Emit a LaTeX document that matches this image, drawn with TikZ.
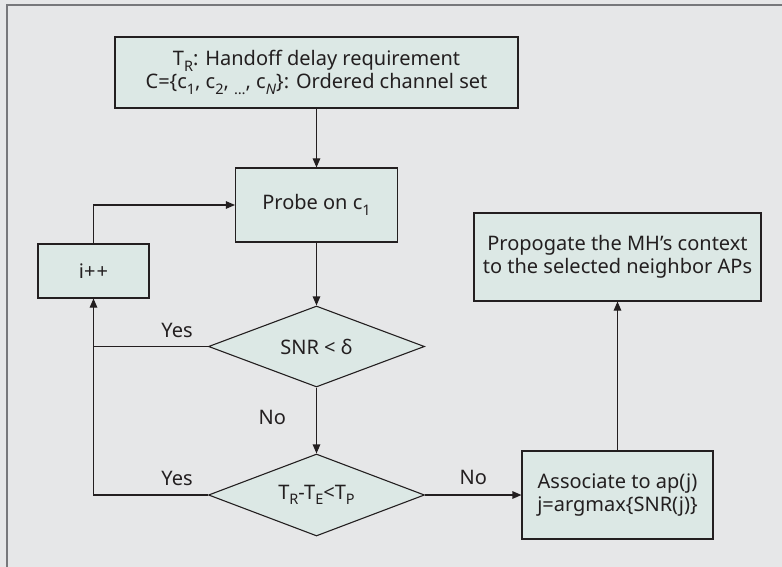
\documentclass[tikz,border=0pt]{standalone}
\usepackage{fontspec}
\setmainfont{Noto Sans}
\usetikzlibrary{shapes.geometric,arrows.meta}
\definecolor{bgc}{HTML}{E6E7E8}
\definecolor{boxc}{HTML}{DCE8E5}
\definecolor{framec}{HTML}{77787B}
\definecolor{linec}{HTML}{231F20}
\newcommand\sbs[1]{\raisebox{-0.28em}{\fontsize{14.5}{14.5}\selectfont #1}}
\tikzset{
  flowbox/.style={draw=linec, fill=boxc, line width=1.1pt, inner sep=0pt, align=center, font=\fontsize{20}{23}\selectfont, text=linec},
  decbox/.style={diamond, draw=linec, fill=boxc, line width=1.1pt, inner sep=0pt, aspect=2.7, font=\fontsize{20}{23}\selectfont, text=linec},
  conn/.style={draw=linec, line width=1.1pt},
  arr/.style={conn, -{Triangle[length=9pt,width=7.5pt]}},
  lbl/.style={font=\fontsize{20}{23}\selectfont, text=linec, inner sep=0pt}
}
\begin{document}
\begin{tikzpicture}[x=1pt,y=-1pt]
\fill[bgc] (0,0) rectangle (782,567);
\useasboundingbox (0,0) rectangle (782,567);
\draw[framec, line width=2pt] (7,567) -- (7,5) -- (782,5);

\node[flowbox, minimum width=403pt, minimum height=71pt] (top) at (316.5,72.5)
  {T\sbs{R}: Handoff delay requirement\\C=\{c\sbs{1}, c\sbs{2}, \sbs{\dots}, c\sbs{\textit{N}}\}: Ordered channel set};
\node[flowbox, minimum width=162pt, minimum height=74pt] (probe) at (316.5,205)
  {Probe on c\sbs{1}};
\node[flowbox, minimum width=111pt, minimum height=54pt] (ipp) at (93.5,271)
  {i+\kern1pt+};
\node[decbox, minimum width=216pt, minimum height=81pt] (d1) at (316.5,346.5)
  {SNR < δ};
\node[decbox, minimum width=216pt, minimum height=82pt] (d2) at (316.5,495)
  {T\sbs{R}-T\sbs{E}<T\sbs{P}};
\node[flowbox, minimum width=191pt, minimum height=88pt] (assoc) at (617.5,495)
  {Associate to ap(j)\\j=argmax\{SNR(j)\}};
\node[flowbox, minimum width=287pt, minimum height=88pt] (prop) at (617.5,257)
  {Propogate the MH’s context\\to the selected neighbor APs};

\coordinate (j1) at (ipp.south |- d1.west);
\draw[arr] (top.south) -- (probe.north);
\draw[arr] (probe.south) -- (d1.north);
\draw[arr] (d1.south) -- node[lbl, pos=0.45, left=30pt] {No} (d2.north);
\draw[arr] (d2.east) -- node[lbl, above=10pt] {No} (assoc.west);
\draw[arr] (assoc.north) -- (prop.south);
\draw[conn] (d1.west) -- node[lbl, pos=0.27, above=8pt] {Yes} (j1);
\draw[arr] (d2.west) -- node[lbl, pos=0.27, above=9pt] {Yes} (d2.west -| ipp.south) -- (ipp.south);
\draw[arr] (ipp.north) |- (probe.west);
\end{tikzpicture}
\end{document}
